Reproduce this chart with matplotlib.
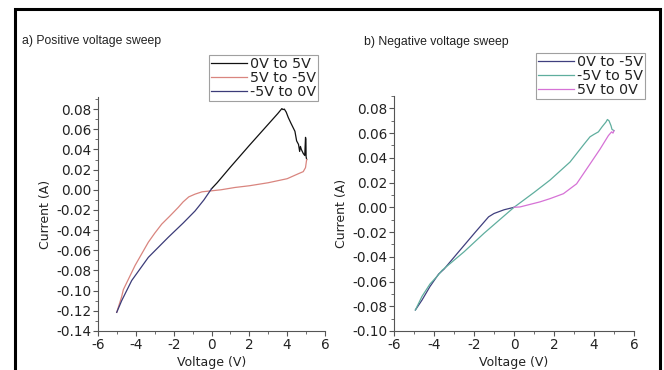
import matplotlib
matplotlib.use("Agg")
import matplotlib.pyplot as plt
from matplotlib.patches import Rectangle
from matplotlib.ticker import MultipleLocator, FormatStrFormatter

plt.rcParams['font.family'] = ['DejaVu Sans']
plt.rcParams['axes.unicode_minus'] = False

# ---------------- data: panel a (positive sweep) ----------------
a_fwd_v = [0.0, 0.3, 1.0, 2.0, 3.0, 3.5, 3.72, 3.78, 3.85, 3.95, 4.06, 4.2, 4.41, 4.5, 4.6, 4.66, 4.7, 4.75, 4.85, 4.93, 4.97, 4.99, 5.0, 5.03]
a_fwd_i = [0.001, 0.007, 0.0225, 0.044, 0.065, 0.0755, 0.0805, 0.0795, 0.0800, 0.0770, 0.0716, 0.066, 0.058, 0.0485, 0.045, 0.038, 0.043, 0.040, 0.036, 0.034, 0.052, 0.050, 0.033, 0.030]

a_back_v = [5.03, 4.97, 4.85, 4.6, 4.0, 3.0, 2.0, 1.24, 0.5, 0.0, -0.5, -0.87, -1.2, -1.5, -1.76, -2.2, -2.63, -3.0, -3.34, -4.04, -4.66, -4.75, -5.01]
a_back_i = [0.030, 0.022, 0.018, 0.016, 0.011, 0.007, 0.004, 0.0023, 0.0, -0.001, -0.002, -0.0043, -0.007, -0.012, -0.0175, -0.026, -0.034, -0.043, -0.052, -0.075, -0.099, -0.106, -0.1215]

a_ret_v = [-5.01, -4.75, -4.22, -3.34, -2.28, -1.5, -0.87, -0.4, 0.0]
a_ret_i = [-0.1215, -0.110, -0.090, -0.067, -0.047, -0.033, -0.021, -0.010, 0.001]

a_labels = ["0V to 5V", "5V to -5V", "-5V to 0V"]
a_colors = ["#111111", "#d9857f", "#3b3b78"]

# ---------------- data: panel b (negative sweep) ----------------
b_fwd_v = [0.0, -0.5, -1.0, -1.27, -1.93, -2.77, -3.5, -3.77, -4.2, -4.6, -4.93]
b_fwd_i = [0.0, -0.002, -0.005, -0.0077, -0.020, -0.036, -0.050, -0.054, -0.064, -0.075, -0.083]

b_back_v = [-4.93, -4.6, -4.2, -3.8, -3.6, -2.5, -1.5, 0.0, 1.0, 1.8, 2.8, 3.5, 3.8, 4.0, 4.22, 4.4, 4.6, 4.67, 4.75, 4.85, 4.9, 5.0]
b_back_i = [-0.083, -0.072, -0.062, -0.055, -0.051, -0.036, -0.021, 0.0, 0.012, 0.022, 0.0366, 0.051, 0.057, 0.059, 0.061, 0.065, 0.069, 0.071, 0.070, 0.066, 0.063, 0.062]

b_ret_v = [5.0, 4.95, 4.88, 4.72, 4.3, 3.8, 3.13, 2.47, 1.8, 1.3, 0.3, 0.0]
b_ret_i = [0.062, 0.060, 0.061, 0.058, 0.047, 0.035, 0.019, 0.011, 0.007, 0.0044, 0.0003, 0.0]

b_labels = ["0V to -5V", "-5V to 5V", "5V to 0V"]
b_colors = ["#3f3f7e", "#5fae9e", "#d672d6"]

xticks = [-6, -4, -2, 0, 2, 4, 6]
a_yticks = [-0.14, -0.12, -0.10, -0.08, -0.06, -0.04, -0.02, 0.00, 0.02, 0.04, 0.06, 0.08]
b_yticks = [-0.10, -0.08, -0.06, -0.04, -0.02, 0.00, 0.02, 0.04, 0.06, 0.08]

W, H = 664, 370
fig = plt.figure(figsize=(W / 100, H / 100), dpi=100)

tick_fs = 9.8
lab_fs = 9.0
leg_fs = 10.3
title_fs = 8.8
spine_col = "#555555"
txt_col = "#222222"


def style(ax, yticks, ylim):
    for s in ["top", "right"]:
        ax.spines[s].set_visible(False)
    for s in ["left", "bottom"]:
        ax.spines[s].set_color(spine_col)
        ax.spines[s].set_linewidth(0.8)
    ax.set_xlim(-6, 6)
    ax.set_ylim(*ylim)
    ax.set_xticks(xticks)
    ax.set_yticks(yticks)
    ax.yaxis.set_major_formatter(FormatStrFormatter('%.2f'))
    ax.xaxis.set_minor_locator(MultipleLocator(1))
    ax.yaxis.set_minor_locator(MultipleLocator(0.01))
    ax.tick_params(which='major', direction='out', length=3.5, width=0.8, color=spine_col,
                   labelsize=tick_fs, pad=1.5, labelcolor=txt_col)
    ax.tick_params(which='minor', direction='out', length=2, width=0.6, color=spine_col)
    ax.set_xlabel("Voltage (V)", fontsize=lab_fs, labelpad=3, color=txt_col)
    ax.set_ylabel("Current (A)", fontsize=lab_fs, labelpad=3, color=txt_col)


ax1 = fig.add_axes([98 / W, 1 - 331 / H, (325 - 98) / W, (331 - 97) / H])
ax1.plot(a_fwd_v, a_fwd_i, color=a_colors[0], lw=0.9, label=a_labels[0])
ax1.plot(a_back_v, a_back_i, color=a_colors[1], lw=0.9, label=a_labels[1])
ax1.plot(a_ret_v, a_ret_i, color=a_colors[2], lw=0.9, label=a_labels[2])
style(ax1, a_yticks, (-0.14, 0.092))

ax2 = fig.add_axes([394 / W, 1 - 331 / H, (634 - 394) / W, (331 - 96) / H])
ax2.plot(b_fwd_v, b_fwd_i, color=b_colors[0], lw=0.9, label=b_labels[0])
ax2.plot(b_back_v, b_back_i, color=b_colors[1], lw=0.9, label=b_labels[1])
ax2.plot(b_ret_v, b_ret_i, color=b_colors[2], lw=0.9, label=b_labels[2])
style(ax2, b_yticks, (-0.10, 0.09))

leg_kw = dict(loc='upper right', fontsize=leg_fs, frameon=True, fancybox=False, shadow=False,
              handlelength=2.5, handletextpad=0.2, labelspacing=0.0, borderpad=0.15,
              borderaxespad=0.0, bbox_transform=fig.transFigure)
l1 = ax1.legend(bbox_to_anchor=(318 / W, 1 - 55 / H), **leg_kw)
l2 = ax2.legend(bbox_to_anchor=(645 / W, 1 - 53 / H), **leg_kw)
for l in (l1, l2):
    l.get_frame().set_edgecolor("#888888")
    l.get_frame().set_linewidth(0.8)
    for t in l.get_texts():
        t.set_color(txt_col)

fig.text(22 / W, 1 - 44 / H, "a) Positive voltage sweep", fontsize=title_fs, va='baseline', ha='left',
         color=txt_col, family=['Liberation Sans', 'DejaVu Sans'])
fig.text(364 / W, 1 - 45 / H, "b) Negative voltage sweep", fontsize=title_fs, va='baseline', ha='left',
         color=txt_col, family=['Liberation Sans', 'DejaVu Sans'])

# outer frame of the figure
fig.patches.append(Rectangle((15 / W, -0.05), (660 - 15) / W, 1.05 - 9 / H,
                             transform=fig.transFigure, fill=False, edgecolor='black', linewidth=2.2))

fig.savefig("out.png", dpi=100)
